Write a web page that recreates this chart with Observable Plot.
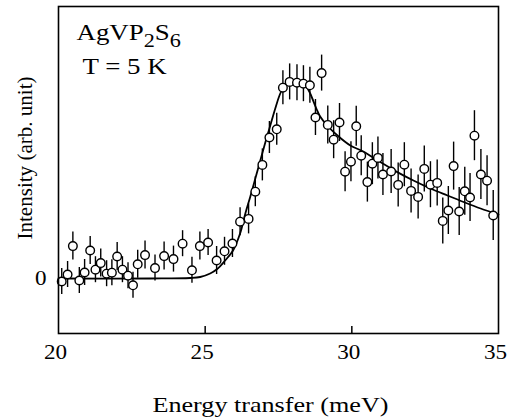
<!DOCTYPE html>
<html><head><meta charset="utf-8">
<script src="https://cdn.jsdelivr.net/npm/d3@7"></script>
<script src="https://cdn.jsdelivr.net/npm/@observablehq/plot@0.6"></script>
<style>
body{margin:0;background:#fff}
#chart svg{background:#fff}
#chart svg text{font-family:"Liberation Serif","Times New Roman",serif !important}
</style>
</head><body><div id="chart"></div>
<script>
// Measured points (energy in meV, intensity in arbitrary units)
const energy = [20.11,20.31,20.49,20.71,20.89,21.08,21.26,21.44,21.64,21.82,22.00,22.18,22.37,22.54,22.70,22.95,
  23.29,23.60,23.92,24.23,24.55,24.82,25.10,25.39,25.66,25.93,26.19,26.48,26.71,26.95,27.19,27.44,
  27.65,27.88,28.13,28.35,28.57,28.76,28.97,29.18,29.38,29.58,29.77,29.97,30.15,30.32,30.53,30.70,
  30.89,31.06,31.34,31.58,31.79,32.02,32.26,32.47,32.68,32.91,33.10,33.29,33.47,33.66,33.85,34.03,
  34.18,34.40,34.61,34.82];
const intensity = [-1.5,2,16.2,-1,3,14,4.4,7.7,2.4,2.9,11,4.4,1.4,-3.4,7.1,11.7,
  5.2,11.2,9.7,17.4,4.1,16.2,18,9,13.6,17.5,28.4,29.8,43.4,56.8,70.5,74.6,
  95.4,98.3,97.9,97.4,96.6,80.5,102.7,76.8,69.4,78,53.4,58.4,76.1,61.4,48.2,57.4,
  60.3,52,53.5,46.8,56.9,43.8,40.8,54.8,46.9,47.8,28.8,34,56.2,33.5,43.6,40.5,
  71.4,52,48.9,31.5];
const errorBar = [6.5,6.5,7,6.5,6.5,7,6.5,7,6.5,6.5,7,6.5,6.5,6.5,7,7,
  6.5,7,6.5,6.5,6.5,7,6.5,7,7,7,7,7.5,7.5,8,8,8,
  8.5,9,9,9,9,9,9,9.5,9.5,9.5,10,10,10,10,10,10.5,
  10.5,10.5,11,11,11,11,11,11.5,11.5,11.5,11.5,12,12,12,12,12,
  12.5,12.5,12.5,12.5];
// Fitted curve
const fitEnergy = [20,23.12,24.49,24.83,25.17,25.41,25.68,25.95,26.19,26.37,26.54,26.71,26.88,27.05,27.22,27.39,
  27.56,27.73,27.90,28.11,28.31,28.45,28.58,28.79,28.92,29.16,29.51,29.95,30.39,30.97,31.55,32.10,
  32.68,33.26,33.81,34.39,35.00];
const fitIntensity = [0,0,0.25,0.75,2.5,4.75,9,14,22.5,32.5,41,50,59,68,76.5,85,
  92.5,97,98.75,99,98,96,92.5,85,81,76.5,71.5,66.5,63.5,58.2,53.2,49,
  45,41.5,38.25,35,32];
const xTicks = [20,25,30,35];
const xInnerTicks = [25,30];
const yTicks = [0];
const xDomain = [20,35];
const yDomain = [-27.5,136];
const xTitle = "Energy transfer (meV)";
const yTitle = "Intensity (arb. unit)";
const sampleLabel = "AgVP2S6";
const tempLabel = "T = 5 K";

const data = energy.map((e,i)=>({energy:e,intensity:intensity[i],err:errorBar[i]}));
const fit = fitEnergy.map((e,i)=>({energy:e,intensity:fitIntensity[i]}));
const tickLen = 3.5;

const chart = Plot.plot({
  width:514, height:417,
  marginLeft:58, marginRight:16, marginTop:6, marginBottom:84,
  style:{fontFamily:'"Liberation Serif","Times New Roman",serif', background:"#fff", color:"#000"},
  x:{domain:xDomain, label:null},
  y:{domain:yDomain, label:null},
  marks:[
    Plot.line(fit,{x:"energy",y:"intensity",curve:"catmull-rom",stroke:"black",strokeWidth:1.8}),
    Plot.ruleX(data,{x:"energy",y1:d=>d.intensity-d.err,y2:d=>d.intensity+d.err,stroke:"black",strokeWidth:1.4}),
    Plot.dot(data,{x:"energy",y:"intensity",r:4.3,fill:"white",stroke:"black",strokeWidth:1.4}),
    Plot.ruleX(xInnerTicks,{x:d=>d,y1:yDomain[0],y2:yDomain[0]+tickLen,stroke:"black",strokeWidth:1.5}),
    Plot.frame({stroke:"black",strokeWidth:1.6}),
    Plot.axisX(xTicks,{tickSize:0,tickPadding:11,fontSize:21,dx:-3,label:null}),
    Plot.axisY(yTicks,{tickSize:0,tickPadding:12,fontSize:21,label:null}),
    Plot.text([xTitle],{frameAnchor:"bottom",dx:-8,dy:72,fontSize:21,textAnchor:"middle",lineAnchor:"middle"}),
    Plot.text([yTitle],{frameAnchor:"left",dx:-33,dy:-12,rotate:-90,fontSize:21,textAnchor:"middle",lineAnchor:"middle"}),
    Plot.text([sampleLabel],{frameAnchor:"top-left",dx:18,dy:26,fontSize:23,textAnchor:"start",lineAnchor:"middle"}),
    Plot.text([tempLabel],{frameAnchor:"top-left",dx:24,dy:60,fontSize:23,textAnchor:"start",lineAnchor:"middle"})
  ]
});
document.getElementById("chart").appendChild(chart);

const stretch = 1.17;
const tickStretch = 1.1;
d3.select(chart).selectAll("text").each(function(){
  const s = this.textContent;
  const t = d3.select(this);
  if (s === sampleLabel) {
    t.text(null);
    t.append("tspan").text("AgVP");
    t.append("tspan").text("2").attr("dy","7").attr("font-size","19");
    t.append("tspan").text("S").attr("dy","-7");
    t.append("tspan").text("6").attr("dy","7").attr("font-size","19");
    t.attr("transform", (t.attr("transform")||"") + " scale(" + stretch + ",1)");
  } else if (s === tempLabel) {
    t.attr("transform", (t.attr("transform")||"") + " scale(" + stretch + ",1)");
  } else if (s === yTitle) {
    t.attr("textLength", 163).attr("lengthAdjust","spacingAndGlyphs");
  } else if (s === xTitle) {
    t.attr("textLength", 236).attr("lengthAdjust","spacingAndGlyphs");
  } else {
    const L = this.getComputedTextLength();
    if (L > 0) t.attr("textLength", L*tickStretch).attr("lengthAdjust","spacingAndGlyphs");
  }
});
</script>
</body></html>
